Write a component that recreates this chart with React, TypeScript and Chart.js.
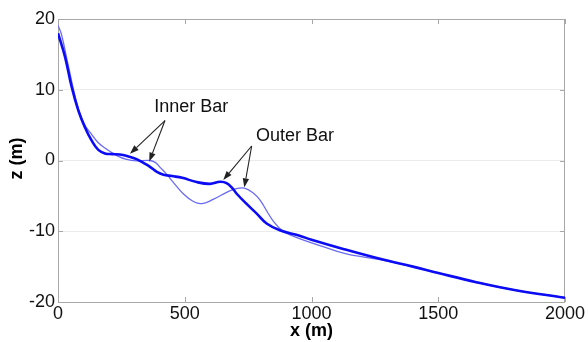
import React, { useEffect, useRef } from "react";
import { Chart, registerables } from "chart.js";

Chart.register(...registerables);

// Thick profile (dark blue)
const thickX = [0, 28, 54, 80, 106, 133, 159, 185, 215, 244, 275, 310, 340, 363, 390, 416, 450, 490, 547, 599, 640, 665, 690, 705, 740, 784, 823, 875, 950, 1000, 1125, 1270, 1400, 1500, 1650, 1800, 2000];
const thickZ = [18.0, 14.6, 10.4, 7.1, 4.7, 2.8, 1.5, 1.0, 0.9, 0.85, 0.6, 0.2, -0.4, -0.9, -1.6, -2.0, -2.2, -2.45, -3.05, -3.3, -3.0, -3.2, -4.0, -4.7, -6.0, -7.5, -8.9, -9.85, -10.6, -11.2, -12.5, -13.9, -15.0, -15.9, -17.2, -18.3, -19.4];

// Thin profile (light blue)
const thinX = [0, 14, 40, 80, 106, 126, 159, 192, 232, 271, 310, 363, 385, 402, 430, 455, 494, 534, 567, 612, 665, 700, 735, 770, 797, 823, 850, 888, 950, 1007, 1138, 1270, 1400, 1500, 1650, 1800, 2000];
const thinZ = [19.1, 17.8, 13.5, 7.3, 5.0, 4.0, 2.5, 1.6, 0.7, 0.15, -0.05, 0.0, -0.3, -0.94, -2.0, -3.1, -4.7, -5.8, -6.1, -5.5, -4.5, -4.0, -3.9, -4.6, -5.6, -7.1, -8.6, -10.0, -11.0, -11.7, -13.2, -14.0, -15.0, -15.9, -17.2, -18.3, -19.4];

const xTicks = [0, 500, 1000, 1500, 2000];
const zTicks = [-20, -10, 0, 10, 20];

// Annotations: label position and arrow apex/tips in data coordinates
const annLabels = ["Inner Bar", "Outer Bar"];
const annLabelX = [526, 935];
const annLabelZ = [7.6, 3.5];
const annApexX = [422, 764];
const annApexZ = [5.65, 2.05];
const annTipX = [[284, 360], [652, 735]];
const annTipZ = [[0.95, -0.14], [-2.75, -3.8]];

const FONT = "'Liberation Sans', Arial, Helvetica, sans-serif";

function arrow(ctx: CanvasRenderingContext2D, x0: number, y0: number, x1: number, y1: number) {
  const ang = Math.atan2(y1 - y0, x1 - x0);
  const hl = 9;
  const hw = 3.2;
  const bx = x1 - hl * Math.cos(ang);
  const by = y1 - hl * Math.sin(ang);
  ctx.beginPath();
  ctx.moveTo(x0, y0);
  ctx.lineTo(bx, by);
  ctx.stroke();
  ctx.beginPath();
  ctx.moveTo(x1, y1);
  ctx.lineTo(bx + hw * Math.sin(ang), by - hw * Math.cos(ang));
  ctx.lineTo(bx - hw * Math.sin(ang), by + hw * Math.cos(ang));
  ctx.closePath();
  ctx.fill();
}

const framePlugin = {
  id: "frame",
  beforeDatasetsDraw(chart: any) {
    const { ctx, chartArea } = chart;
    const xs = chart.scales.x;
    const ys = chart.scales.y;
    ctx.save();
    ctx.strokeStyle = "#a8a8a8";
    ctx.lineWidth = 1;
    ctx.strokeRect(chartArea.left + 0.5, chartArea.top + 0.5, chartArea.right - chartArea.left - 1, chartArea.bottom - chartArea.top);
    ctx.beginPath();
    for (const v of xTicks) {
      const px = Math.round(xs.getPixelForValue(v)) + 0.5;
      ctx.moveTo(px, chartArea.bottom);
      ctx.lineTo(px, chartArea.bottom - 5);
      ctx.moveTo(px, chartArea.top);
      ctx.lineTo(px, chartArea.top + 5);
    }
    for (const v of zTicks) {
      const py = Math.round(ys.getPixelForValue(v)) + 0.5;
      ctx.moveTo(chartArea.left, py);
      ctx.lineTo(chartArea.left + 5, py);
      ctx.moveTo(chartArea.right, py);
      ctx.lineTo(chartArea.right - 5, py);
    }
    ctx.stroke();
    ctx.restore();
  },
  afterDraw(chart: any) {
    const { ctx } = chart;
    const xs = chart.scales.x;
    const ys = chart.scales.y;
    ctx.save();
    // axis titles
    ctx.fillStyle = "#000";
    ctx.font = `bold 18px ${FONT}`;
    ctx.textAlign = "center";
    ctx.textBaseline = "middle";
    ctx.fillText("x (m)", xs.getPixelForValue(1000), 331);
    ctx.save();
    ctx.translate(17, ys.getPixelForValue(0) - 2);
    ctx.rotate(-Math.PI / 2);
    ctx.fillText("z (m)", 0, 0);
    ctx.restore();
    // annotations
    ctx.font = `18px ${FONT}`;
    ctx.fillStyle = "#111";
    ctx.strokeStyle = "#222";
    ctx.lineWidth = 1.1;
    for (let i = 0; i < annLabels.length; i++) {
      ctx.fillStyle = "#111";
      ctx.fillText(annLabels[i], xs.getPixelForValue(annLabelX[i]), ys.getPixelForValue(annLabelZ[i]));
      const ax = xs.getPixelForValue(annApexX[i]);
      const ay = ys.getPixelForValue(annApexZ[i]);
      for (let j = 0; j < annTipX[i].length; j++) {
        ctx.fillStyle = "#222";
        arrow(ctx, ax, ay, xs.getPixelForValue(annTipX[i][j]), ys.getPixelForValue(annTipZ[i][j]));
      }
    }
    ctx.restore();
  },
};

export default function App() {
  const ref = useRef<HTMLCanvasElement | null>(null);
  useEffect(() => {
    if (!ref.current) return;
    const thick = thickX.map((x, i) => ({ x, y: thickZ[i] }));
    const thin = thinX.map((x, i) => ({ x, y: thinZ[i] }));
    const chart = new Chart(ref.current, {
      type: "line",
      data: {
        datasets: [
          {
            data: thick,
            borderColor: "#0b0bf5",
            borderWidth: 2.6,
            pointRadius: 0,
            tension: 0.4,
            fill: false,
          },
          {
            data: thin,
            borderColor: "#6a6af2",
            borderWidth: 1.3,
            pointRadius: 0,
            tension: 0.4,
            fill: false,
          },
        ],
      },
      options: {
        animation: false,
        responsive: false,
        maintainAspectRatio: false,
        layout: { padding: { top: 19, right: 23, left: 0, bottom: 0 } },
        plugins: { legend: { display: false }, tooltip: { enabled: false } },
        scales: {
          x: {
            type: "linear",
            min: 0,
            max: 2000,
            afterFit: (s: any) => {
              s.height = 40;
            },
            afterBuildTicks: (s: any) => {
              s.ticks = xTicks.map((v) => ({ value: v }));
            },
            grid: { display: false, drawTicks: false },
            border: { display: false },
            ticks: {
              autoSkip: false,
              maxRotation: 0,
              padding: 1,
              color: "#111",
              font: { family: FONT, size: 18 },
              callback: (v: any) => String(v),
            },
          },
          y: {
            type: "linear",
            min: -20,
            max: 20,
            afterFit: (s: any) => {
              s.width = 58;
            },
            afterBuildTicks: (s: any) => {
              s.ticks = zTicks.map((v) => ({ value: v }));
            },
            grid: {
              drawTicks: false,
              color: (c: any) => (Math.abs(c.tick?.value) === 20 ? "rgba(0,0,0,0)" : "#ececec"),
              lineWidth: 1,
            },
            border: { display: false },
            ticks: {
              autoSkip: false,
              padding: 3,
              color: "#111",
              font: { family: FONT, size: 18 },
              callback: (v: any) => String(v),
            },
          },
        },
      },
      plugins: [framePlugin],
    });
    return () => chart.destroy();
  }, []);
  return (
    <div style={{ position: "absolute", left: 0, top: 0, width: 588, height: 342, background: "#fff" }}>
      <canvas ref={ref} width={588} height={342} style={{ width: 588, height: 342 }} />
    </div>
  );
}
